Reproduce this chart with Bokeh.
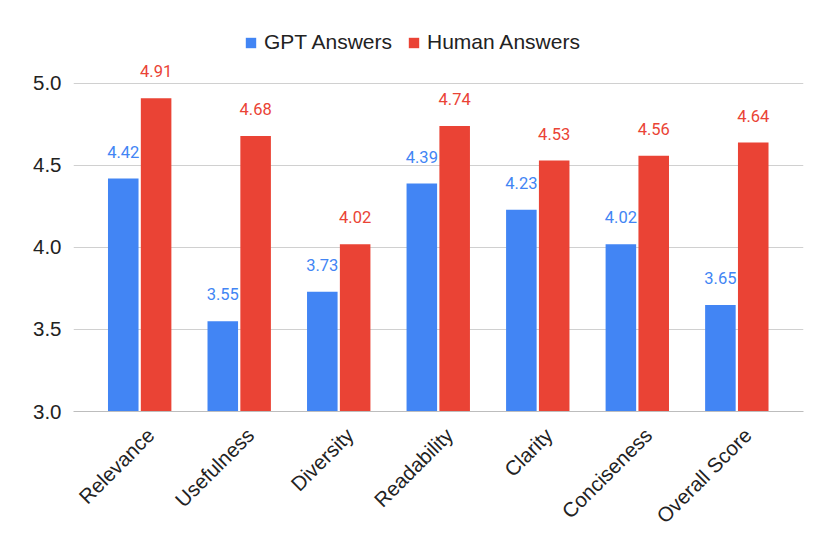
import math
from bokeh.plotting import figure
from bokeh.models import ColumnDataSource, Legend, LegendItem, FixedTicker, Range1d
from bokeh.core.properties import value
from bokeh.transform import dodge
from bokeh.embed import file_html
from bokeh.resources import INLINE

categories = ["Relevance", "Usefulness", "Diversity", "Readability", "Clarity", "Conciseness", "Overall Score"]
gpt_scores = [4.42, 3.55, 3.73, 4.39, 4.23, 4.02, 3.65]
human_scores = [4.91, 4.68, 4.02, 4.74, 4.53, 4.56, 4.64]
series_names = ["GPT Answers", "Human Answers"]
y_ticks = [3.0, 3.5, 4.0, 4.5, 5.0]

BLUE = "#4285F4"
RED = "#EA4335"

idx = list(range(len(categories)))
src = ColumnDataSource(dict(
    x=idx,
    gpt=gpt_scores,
    human=human_scores,
    gpt_lbl=[f"{v:.2f}" for v in gpt_scores],
    human_lbl=[f"{v:.2f}" for v in human_scores],
    base=[3.0] * len(idx),
))

p = figure(width=814, height=538, output_backend="svg", toolbar_location=None,
           x_range=Range1d(-0.665, 6.67), y_range=Range1d(3.0, 5.457),
           min_border_left=73, min_border_right=11, min_border_top=8, min_border_bottom=127)
p.outline_line_color = None
p.background_fill_color = "white"

off = 0.165
w = 0.307
r1 = p.vbar(x=dodge("x", -off), top="gpt", bottom="base", width=w,
            source=src, fill_color=BLUE, line_color=None)
r2 = p.vbar(x=dodge("x", off), top="human", bottom="base", width=w,
            source=src, fill_color=RED, line_color=None)

p.text(x=dodge("x", -off), y="gpt", text="gpt_lbl", source=src, text_color=BLUE,
       text_font=value("Roboto"), text_font_size="16.5px", text_align="center",
       text_baseline="middle", y_offset=-27)
p.text(x=dodge("x", off), y="human", text="human_lbl", source=src, text_color=RED,
       text_font=value("Roboto"), text_font_size="16.5px", text_align="center",
       text_baseline="middle", y_offset=-27)

# axes: category labels placed slightly right of group centre, as in the reference
label_shift = 0.11
label_ticks = [i + label_shift for i in idx]
p.xaxis.ticker = FixedTicker(ticks=label_ticks)
p.xaxis.major_label_overrides = {t: c for t, c in zip(label_ticks, categories)}
p.xaxis.major_label_orientation = math.pi / 4
p.xaxis.major_label_text_font = "Liberation Sans"
p.xaxis.major_label_text_font_size = "20.5px"
p.xaxis.major_label_text_color = "#222222"
p.xaxis.major_tick_line_color = None
p.xaxis.minor_tick_line_color = None
p.xaxis.major_tick_out = 0
p.xaxis.major_tick_in = 0
p.xaxis.axis_line_color = "#bdbdbd"
p.xaxis.major_label_standoff = 20

p.yaxis.ticker = FixedTicker(ticks=y_ticks)
p.yaxis.major_label_overrides = {t: f"{t:.1f}" for t in y_ticks}
p.yaxis.major_label_text_font = "Liberation Sans"
p.yaxis.major_label_text_font_size = "20.5px"
p.yaxis.major_label_text_color = "#222222"
p.yaxis.major_tick_line_color = None
p.yaxis.minor_tick_line_color = None
p.yaxis.major_tick_out = 0
p.yaxis.major_tick_in = 0
p.yaxis.axis_line_color = None
p.yaxis.major_label_standoff = 12

p.xgrid.grid_line_color = None
p.ygrid.ticker = FixedTicker(ticks=y_ticks[1:])
p.ygrid.grid_line_color = "#d0d0d0"

legend = Legend(items=[LegendItem(label=series_names[0], renderers=[r1]),
                       LegendItem(label=series_names[1], renderers=[r2])],
                orientation="horizontal", location=(171, 357))
legend.label_text_font = "Liberation Sans"
legend.label_text_font_size = "21px"
legend.label_text_color = "#222222"
legend.glyph_width = 13
legend.glyph_height = 13
legend.label_standoff = 7
legend.spacing = 15
legend.padding = 5
legend.margin = 0
legend.border_line_color = None
legend.background_fill_alpha = 0
p.add_layout(legend, "center")

open("out.html", "w").write(file_html(p, INLINE))
